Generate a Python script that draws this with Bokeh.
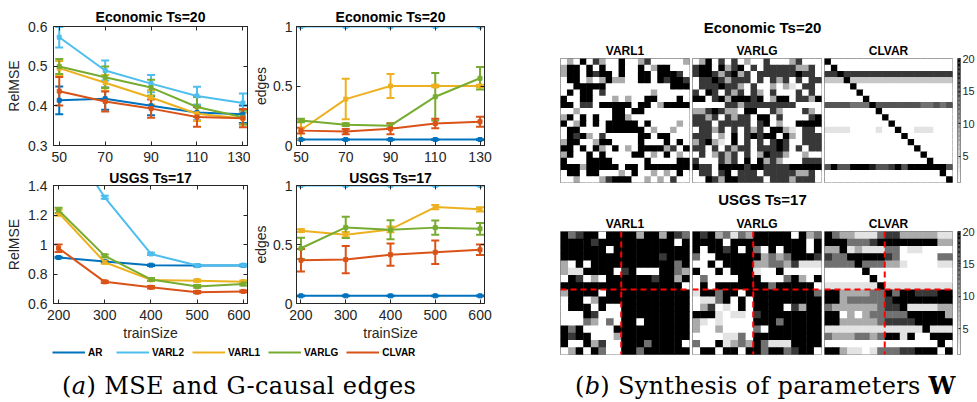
import numpy as np
from bokeh.plotting import figure
from bokeh.models import (ColumnDataSource, Range1d, FixedTicker, NumeralTickFormatter,
                          CustomJSTickFormatter, Whisker, TeeHead, Legend, LegendItem,
                          Span, LinearAxis, Div)
from bokeh.layouts import row, column
from bokeh.palettes import Greys256
from bokeh.transform import linear_cmap
from bokeh.embed import file_html
from bokeh.resources import INLINE

# ---------------- data ----------------
methods = ["AR", "VARL2", "VARL1", "VARLG", "CLVAR"]
colors = ["#0072BD", "#4DBEEE", "#EDB120", "#77AC30", "#D95319"]

econ_train = [50, 70, 90, 110, 130]
usgs_train = [200, 300, 400, 500, 600]

econ_mse_ticks = [0.3, 0.4, 0.5, 0.6]
usgs_mse_ticks = [0.6, 0.8, 1, 1.2, 1.4]
edges_ticks = [0, 0.5, 1]
cbar_ticks = [5, 10, 15, 20]

econ_mse = {
    "AR":    [0.414, 0.418, 0.400, 0.383, 0.379],
    "VARL2": [0.573, 0.489, 0.456, 0.425, 0.407],
    "VARL1": [0.495, 0.458, 0.421, 0.380, 0.368],
    "VARLG": [0.499, 0.472, 0.446, 0.397, 0.371],
    "CLVAR": [0.437, 0.411, 0.393, 0.372, 0.369],
}
econ_mse_err = {
    "AR":    [0.035, 0.028, 0.024, 0.020, 0.022],
    "VARL2": [0.026, 0.025, 0.022, 0.023, 0.024],
    "VARL1": [0.018, 0.020, 0.018, 0.018, 0.015],
    "VARLG": [0.019, 0.027, 0.020, 0.025, 0.018],
    "CLVAR": [0.036, 0.025, 0.023, 0.025, 0.023],
}
econ_edges = {
    "AR":    [0.05, 0.05, 0.05, 0.05, 0.05],
    "VARL2": [1.0, 1.0, 1.0, 1.0, 1.0],
    "VARL1": [0.13, 0.39, 0.50, 0.50, 0.50],
    "VARLG": [0.21, 0.175, 0.167, 0.41, 0.565],
    "CLVAR": [0.125, 0.117, 0.140, 0.185, 0.20],
}
econ_edges_err = {
    "AR":    [0.003, 0.003, 0.003, 0.003, 0.003],
    "VARL2": [0.0, 0.0, 0.0, 0.0, 0.0],
    "VARL1": [0.08, 0.17, 0.10, 0.01, 0.01],
    "VARLG": [0.015, 0.012, 0.02, 0.20, 0.095],
    "CLVAR": [0.025, 0.022, 0.045, 0.04, 0.042],
}
usgs_mse = {
    "AR":    [0.912, 0.885, 0.860, 0.857, 0.858],
    "VARL2": [1.79, 1.32, 0.936, 0.857, 0.860],
    "VARL1": [1.215, 0.880, 0.760, 0.755, 0.748],
    "VARLG": [1.232, 0.923, 0.763, 0.716, 0.732],
    "CLVAR": [0.975, 0.747, 0.710, 0.677, 0.682],
}
usgs_mse_err = {
    "AR":    [0.005, 0.005, 0.005, 0.005, 0.005],
    "VARL2": [0.01, 0.01, 0.008, 0.006, 0.006],
    "VARL1": [0.02, 0.01, 0.008, 0.008, 0.008],
    "VARLG": [0.018, 0.01, 0.01, 0.01, 0.01],
    "CLVAR": [0.025, 0.008, 0.008, 0.008, 0.006],
}
usgs_edges = {
    "AR":    [0.065, 0.065, 0.065, 0.065, 0.065],
    "VARL2": [1.0, 1.0, 1.0, 1.0, 1.0],
    "VARL1": [0.617, 0.583, 0.628, 0.817, 0.798],
    "VARLG": [0.468, 0.645, 0.625, 0.643, 0.633],
    "CLVAR": [0.367, 0.372, 0.414, 0.434, 0.455],
}
usgs_edges_err = {
    "AR":    [0.003, 0.003, 0.003, 0.003, 0.003],
    "VARL2": [0.0, 0.0, 0.0, 0.0, 0.0],
    "VARL1": [0.012, 0.022, 0.025, 0.018, 0.018],
    "VARLG": [0.09, 0.09, 0.08, 0.06, 0.05],
    "CLVAR": [0.095, 0.115, 0.095, 0.10, 0.045],
}

# heatmap cells: digit 0..9 = grey level (0 white .. 9 black)
gray_level_values = [1.0, 3.1, 5.2, 7.3, 9.4, 11.6, 13.7, 15.8, 17.9, 20.0]

econ_varl1 = [
    "03090730090037000003", "39909090090090399000", "39909799090099099970",
    "09903039330099097997", "00999990000000000999", "09099070000000300000",
    "90099000303009900090", "99077099999099039999", "00300000990990000000",
    "39090900993000000000", "90390909999909000030", "09900009999990300300",
    "09793070000099099000", "39900399000090009090", "99090930903099993709",
    "39009090000990309030", "90009999000009000099", "99939999909909999999",
    "09909900030900303090", "00300037999003030700",
]
econ_varlg = [
    "03907070300700037000", "79909379070777773370", "79973793707777779770",
    "07797377707073707077", "07779773070030310770", "70970737073070007070",
    "99079399979039907739", "00000773777777770000", "33797330990073000730",
    "77370737709907000079", "77707777707903009999", "07737070737099310770",
    "77703090797990930777", "37931090707079700777", "77070737707779707077",
    "07037370703977300300", "70007370909373000777", "97709999799777799999",
    "07707907770777773370", "00973997777077737770",
]
econ_clvar = [
    "90000000000000000000", "09000000000000000000", "77977777777777777777",
    "22292222222222222222", "00009000000000000000", "00000900000000000000",
    "00000090000000000000", "66665559666666655656", "00000000900000000000",
    "00000000090000000000", "00000000009000000000", "11110000100900111000",
    "00000000000090000000", "00000000000009000000", "00000000000000900000",
    "00000000000000090000", "00000000000000009000", "69669998667969999996",
    "00000000000000000090", "00000000000000000009",
]
usgs_varl1 = [
    "95799099993993975", "99997999999999909", "99999909999999999",
    "99999999999997999", "30909999999999959", "31199990790009953",
    "09703099999979939", "99999999999999990", "39999099999999999",
    "09903999999999999", "09990900999999999", "00097000999999999",
    "00053050990999999", "95900009999999999", "97990003999999999",
    "90093700999599990", "03909500995999999",
]
usgs_varlg = [
    "97935153999990935", "99990999999999909", "90997909509099909",
    "50099999935359997", "00909999335537111", "90090999100900000",
    "05000099900059309", "09099999995999990", "19959909999999995",
    "01159090999999999", "03701090999907399", "99910110799999999",
    "31010000999599999", "30030000509999999", "00001150999999999",
    "50091353951119999", "09909909959957990",
]
usgs_clvar = [
    "95331115773333311", "99955579999999933", "33913111550110000",
    "75599999750000055", "55559555331000011", "00000900000000000",
    "00000090000000000", "11111119111111111", "99333355959977799",
    "99355555799999999", "53333335779111133", "99030355555999993",
    "99333335777799999", "11111111111119111", "53335535991900999",
    "00000000000000090", "99311015557799909",
]
usgs_split = 8

# ---------------- styling helpers ----------------
FONT = "Liberation Sans"
AX = "#262626"
palette = list(reversed(Greys256))


def style_axis(ax, ticks, standoff, label=None, label_standoff=3):
    ax.ticker = FixedTicker(ticks=ticks)
    ax.formatter = NumeralTickFormatter(format="0.[0]")
    ax.major_tick_in = 4
    ax.major_tick_out = 0
    ax.minor_tick_line_color = None
    ax.axis_line_color = AX
    ax.major_tick_line_color = AX
    ax.major_label_text_font = FONT
    ax.major_label_text_font_size = "14px"
    ax.major_label_text_color = AX
    ax.major_label_standoff = standoff
    if label:
        ax.axis_label = label
        ax.axis_label_text_font = FONT
        ax.axis_label_text_font_size = "14px"
        ax.axis_label_text_font_style = "normal"
        ax.axis_label_text_color = AX
        ax.axis_label_standoff = label_standoff


def mirror_axis(p, ticks, loc):
    ax = LinearAxis(ticker=FixedTicker(ticks=ticks),
                    formatter=CustomJSTickFormatter(code="return ''"))
    ax.major_tick_in = 4
    ax.major_tick_out = 0
    ax.minor_tick_line_color = None
    ax.axis_line_color = AX
    ax.major_tick_line_color = AX
    ax.major_label_standoff = 0
    ax.major_label_text_font_size = "1px"
    p.add_layout(ax, loc)


def line_panel(xs, means, errs, xr, yr, xticks, yticks, title, ylabel, xlabel,
               w, h, bl, br, bt, bb, title_off, ylab_sep, xstand, tstand):
    p = figure(width=w, height=h, x_range=Range1d(*xr), y_range=Range1d(*yr),
               toolbar_location=None, output_backend="svg",
               min_border_left=bl, min_border_right=br,
               min_border_top=bt, min_border_bottom=bb)
    p.title.text = title
    p.title.align = "center"
    p.title.text_font = FONT
    p.title.text_font_size = "14px"
    p.title.text_font_style = "bold"
    p.title.text_color = "#000000"
    p.title.standoff = tstand
    p.title.offset = title_off
    p.xgrid.visible = False
    p.ygrid.visible = False
    p.outline_line_color = AX
    p.outline_line_alpha = 1
    style_axis(p.xaxis[0], xticks, xstand, xlabel, 2)
    style_axis(p.yaxis[0], yticks, ylab_sep[0], ylabel, ylab_sep[1])
    mirror_axis(p, xticks, "above")
    mirror_axis(p, yticks, "right")
    for name, col in zip(methods, colors):
        m = means[name]
        e = errs[name]
        src = ColumnDataSource(dict(x=xs, y=m,
                                    lo=[a - b for a, b in zip(m, e)],
                                    hi=[a + b for a, b in zip(m, e)]))
        p.line("x", "y", source=src, line_color=col, line_width=2)
        p.scatter("x", "y", source=src, marker="square", size=4,
                  fill_color=col, line_color=col)
        p.add_layout(Whisker(source=src, base="x", upper="hi", lower="lo",
                             line_color=col, line_width=2,
                             upper_head=TeeHead(size=8, line_color=col, line_width=2),
                             lower_head=TeeHead(size=8, line_color=col, line_width=2)))
    return p


def heat(rows, title, w, bl, br, h, bt, bb, t_off=0, split=None):
    n = len(rows)
    xs, ys, vs = [], [], []
    for r, rs in enumerate(rows):
        for c, ch in enumerate(rs):
            xs.append(c + 0.5)
            ys.append(n - r - 0.5)
            vs.append(gray_level_values[int(ch)])
    p = figure(width=w, height=h, x_range=Range1d(0, n), y_range=Range1d(0, n),
               toolbar_location=None, output_backend="svg",
               x_axis_location=None, y_axis_location=None,
               min_border_left=bl, min_border_right=br,
               min_border_top=bt, min_border_bottom=bb)
    p.grid.visible = False
    p.title.text = title
    p.title.align = "center"
    p.title.text_font = FONT
    p.title.text_font_size = "12px"
    p.title.text_font_style = "bold"
    p.title.text_color = "#000000"
    p.title.standoff = 2
    p.title.offset = t_off
    p.outline_line_color = "#7f7f7f"
    src = ColumnDataSource(dict(x=xs, y=ys, v=vs))
    p.rect("x", "y", width=1, height=1, source=src, dilate=True,
           fill_color=linear_cmap("v", palette, 1, 20), line_color=None)
    if split is not None:
        p.add_layout(Span(location=split, dimension="height", line_color="#ff0000",
                          line_dash="6 4", line_width=2))
        p.add_layout(Span(location=n - split, dimension="width", line_color="#ff0000",
                          line_dash="6 4", line_width=2))
    return p


def cbar(w, h, bl, br, bt, bb):
    p = figure(width=w, height=h, x_range=Range1d(0, 1), y_range=Range1d(1, 20),
               toolbar_location=None, output_backend="svg",
               x_axis_location=None, y_axis_location=None,
               min_border_left=bl, min_border_right=br,
               min_border_top=bt, min_border_bottom=bb)
    p.grid.visible = False
    p.outline_line_color = "#7f7f7f"
    lv = np.linspace(1, 20, 97)
    src = ColumnDataSource(dict(b=lv[:-1], t=lv[1:], v=(lv[:-1] + lv[1:]) / 2))
    p.quad(left=0, right=1, bottom="b", top="t", source=src,
           fill_color=linear_cmap("v", palette, 1, 20), line_color=None)
    ax = LinearAxis(ticker=FixedTicker(ticks=cbar_ticks))
    ax.axis_line_color = None
    ax.major_tick_in = 2
    ax.major_tick_out = 0
    ax.major_tick_line_color = AX
    ax.minor_tick_line_color = None
    ax.major_label_standoff = 2
    ax.major_label_text_font = FONT
    ax.major_label_text_font_size = "11px"
    ax.major_label_text_color = AX
    p.add_layout(ax, "right")
    return p


# ---------------- left panel ----------------
tl = line_panel(econ_train, econ_mse, econ_mse_err, (47.5, 132), (0.3, 0.6),
                econ_train, econ_mse_ticks, "Economic Ts=20", "RelMSE", None,
                250, 167, 53, 3, 26, 22, -8, (6, 3), 6, 3)
tr = line_panel(econ_train, econ_edges, econ_edges_err, (48, 132), (0, 1),
                econ_train, edges_ticks, "Economic Ts=20", "edges", None,
                298, 167, 41, 64, 26, 22, -9, (4, 1), 6, 3)
bl_ = line_panel(usgs_train, usgs_mse, usgs_mse_err, (189, 609), (0.6, 1.4),
                 usgs_train, usgs_mse_ticks, "USGS Ts=17", "RelMSE", "trainSize",
                 250, 176, 53, 3, 18, 39, -7, (6, 3), 6, 0)
br_ = line_panel(usgs_train, usgs_edges, usgs_edges_err, (190, 610), (0, 1),
                 usgs_train, edges_ticks, "USGS Ts=17", "edges", "trainSize",
                 298, 176, 41, 64, 18, 39, -6, (4, 1), 6, 0)

lp = figure(width=548, height=17, toolbar_location=None, output_backend="svg",
            x_range=Range1d(0, 1), y_range=Range1d(0, 1),
            x_axis_location=None, y_axis_location=None, min_border=0)
lp.grid.visible = False
lp.outline_line_color = None
items = []
for name, col in zip(methods, colors):
    r = lp.line(x=[2, 3], y=[2, 2], line_color=col, line_width=2)
    items.append(LegendItem(label=name, renderers=[r]))
leg = Legend(items=items, orientation="horizontal", location=(52, 2),
             glyph_width=33, glyph_height=12, label_height=12, label_standoff=3,
             spacing=8, padding=0, margin=0, border_line_color=None,
             background_fill_alpha=0, label_text_font=FONT,
             label_text_font_size="10px", label_text_font_style="bold",
             label_text_color="#000000")
lp.add_layout(leg)

left_col = column(row(tl, tr), row(bl_, br_), lp)

# ---------------- right panel ----------------
RW = 429


def title_div(txt, h, pad):
    return Div(text=(f'<div style="width:{RW}px;text-align:center;'
                     'font-family:\'Liberation Sans\';font-weight:bold;font-size:15px;'
                     f'line-height:16px;padding-top:{pad}px;color:#000">{txt}</div>'),
               width=RW, height=h, margin=0)


e1 = heat(econ_varl1, "VARL1", 142, 12, 1, 146, 18, 4, -5)
e2 = heat(econ_varlg, "VARLG", 132, 2, 1, 146, 18, 4, 3)
e3 = heat(econ_clvar, "CLVAR", 131, 2, 1, 146, 18, 4, 3)
ec = cbar(24, 146, 4, 15, 18, 4)

u1 = heat(usgs_varl1, "VARL1", 142, 12, 1, 147, 16, 6, -5, usgs_split)
u2 = heat(usgs_varlg, "VARLG", 132, 2, 1, 147, 16, 6, 3, usgs_split)
u3 = heat(usgs_clvar, "CLVAR", 131, 2, 1, 147, 16, 6, 3, usgs_split)
uc = cbar(24, 147, 4, 15, 16, 6)

right_col = column(title_div("Economic Ts=20", 40, 20), row(e1, e2, e3, ec),
                   title_div("USGS Ts=17", 27, 6), row(u1, u2, u3, uc))

cap_a = Div(text=('<div style="font-family:\'DejaVu Serif\';font-size:24px;line-height:28px;'
                  'padding-left:62px;padding-top:12px;white-space:nowrap;color:#000;'
                  'letter-spacing:0.4px">'
                  '(<i>a</i>) MSE and G-causal edges</div>'),
            width=548, height=42, margin=0)
cap_b = Div(text=('<div style="font-family:\'DejaVu Serif\';font-size:24px;line-height:28px;'
                  'padding-left:27px;padding-top:12px;white-space:nowrap;color:#000;'
                  'letter-spacing:0.3px">'
                  '(<i>b</i>) Synthesis of parameters <b>W</b></div>'),
            width=RW, height=42, margin=0)

p = column(row(left_col, right_col), row(cap_a, cap_b))

open("out.html", "w").write(file_html(p, INLINE))
